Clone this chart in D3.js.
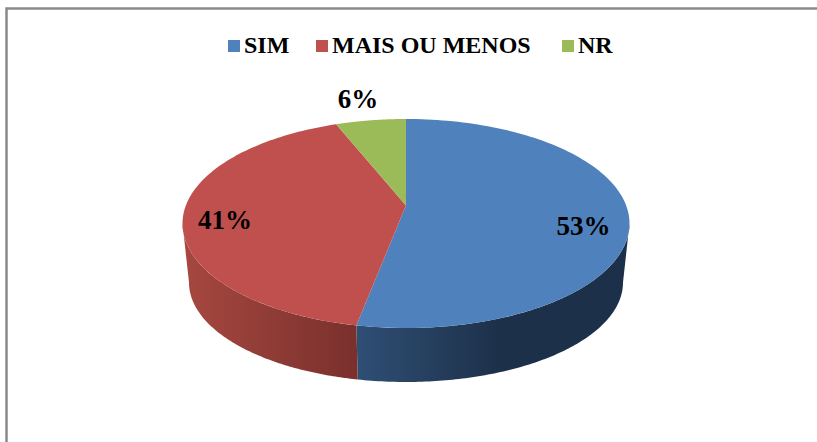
<!doctype html>
<meta charset='utf-8'>
<title>pie</title>
<style type="text/css">
	html, body { margin:0; padding:0; background:white; overflow:hidden; }
	text { font-family:"Liberation Serif", serif; font-weight:bold; fill:#000; }
</style>
<div id='container'></div>
<script src="https://cdnjs.cloudflare.com/ajax/libs/d3/7.8.5/d3.min.js" charset="utf-8"></script>
<script>
	var categories = ['SIM', 'MAIS OU MENOS', 'NR']
	var values = [53, 41, 6]
	var colors = ['#4f81bd', '#c0504d', '#9bbb59']
	var wallColors = [['#2f4f75', '#1d3049'], ['#a5473f', '#7a302d']]

	var width = 817, height = 442
	var svg = d3.select('#container').append('svg')
		.attr('width', width).attr('height', height)
		.style('display', 'block')

	svg.append('path')
		.attr('d', 'M6.5,442V8.5H817')
		.attr('fill', 'none').attr('stroke', '#8a8a8a').attr('stroke-width', 2.5)

	var arcs = d3.pie().sort(null)(values)

	// tilted disc: k pushes the centre of the disc up the ellipse
	var k = -0.172
	function project(a, disc) {
		var u = Math.sin(a), v = -Math.cos(a), w = 1 + k * v
		return [
			disc.cx + disc.rx * u * Math.sqrt(1 - k * k) / w,
			disc.cy + disc.ry * (v + k) / w
		]
	}
	var topDisc = {cx: 406, cy: 223.5, rx: 223.5, ry: 104.5}
	var bottomDisc = {cx: 406, cy: 282.5, rx: 217, ry: 99.5}
	var line = d3.line()

	function rim(a0, a1, disc) {
		return d3.range(0, 121).map(function(i) {
			return project(a0 + (a1 - a0) * i / 120, disc)
		})
	}

	// side walls, only the front part shows. they start at the widest point of the ellipse
	var sideAngle = Math.acos(k)
	var defs = svg.append('defs')
	var wallAngles = [[sideAngle, arcs[0].endAngle], [arcs[1].startAngle, 2 * Math.PI - sideAngle]]
	var wallX = [[355, 500], [188, 356]]
	wallAngles.forEach(function(w, i) {
		var grad = defs.append('linearGradient')
			.attr('id', 'wall' + i).attr('gradientUnits', 'userSpaceOnUse')
			.attr('x1', wallX[i][0]).attr('x2', wallX[i][1]).attr('y1', 0).attr('y2', 0)
		grad.append('stop').attr('offset', 0).attr('stop-color', wallColors[i][0])
		grad.append('stop').attr('offset', 1).attr('stop-color', wallColors[i][1])
		var pts = rim(w[0], w[1], topDisc).concat(rim(w[1], w[0], bottomDisc))
		svg.append('path').attr('d', line(pts) + 'Z').attr('fill', 'url(#wall' + i + ')')
	})

	// top face
	arcs.forEach(function(d, i) {
		var pts = [[topDisc.cx, topDisc.cy + topDisc.ry * k]].concat(rim(d.startAngle, d.endAngle, topDisc))
		svg.append('path').attr('d', line(pts) + 'Z').attr('fill', colors[i])
	})

	// labels
	var labelPos = [[583.5, 235], [225, 229], [358, 108]]
	values.forEach(function(v, i) {
		svg.append('text').attr('x', labelPos[i][0]).attr('y', labelPos[i][1])
			.attr('text-anchor', 'middle').attr('font-size', 27).text(v + '%')
	})

	// legend
	var legendX = [228, 316, 562]
	var legendY = 40
	categories.forEach(function(c, i) {
		svg.append('rect').attr('x', legendX[i]).attr('y', legendY)
			.attr('width', 12).attr('height', 12).attr('fill', colors[i])
		svg.append('text').attr('x', legendX[i] + 16).attr('y', legendY + 13)
			.attr('font-size', 24).text(c)
	})
</script>
